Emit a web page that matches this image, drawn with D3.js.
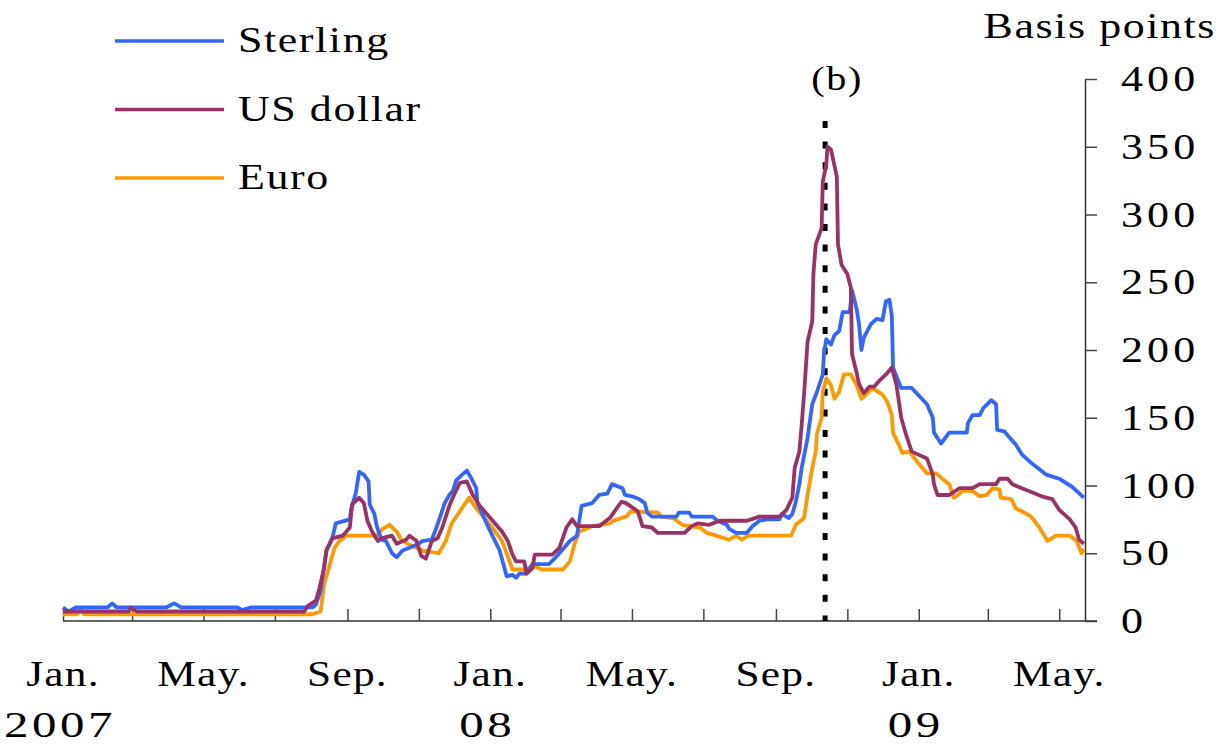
<!DOCTYPE html>
<html>
<head>
<meta charset="utf-8">
<script src="https://cdn.jsdelivr.net/npm/d3@7"></script>
<style>
  body { margin: 0; background: #fff; }
  text { font-family: "Liberation Serif", "Times New Roman", serif; fill: #000; }
</style>
</head>
<body>
<svg width="1228" height="745"></svg>
<script>
// spreads, basis points
const sterling = [
	["2007-01-01",10],["2007-01-06",7],["2007-01-12",10],["2007-02-08",10],["2007-02-12",13],["2007-02-16",10],
	["2007-03-30",10],["2007-04-06",13],["2007-04-12",10],["2007-05-30",10],["2007-06-03",8],["2007-06-10",10],
	["2007-08-02",10],["2007-08-05",12],["2007-08-09",22],["2007-08-14",52],["2007-08-19",61],["2007-08-22",72],
	["2007-09-03",75],["2007-09-04",82],["2007-09-08",94],["2007-09-11",110],["2007-09-15",108],["2007-09-19",103],
	["2007-09-20",86],["2007-09-24",79],["2007-09-26",70],["2007-09-30",60],["2007-10-04",59],["2007-10-09",50],
	["2007-10-13",47],["2007-10-18",52],["2007-10-24",54],["2007-11-01",57],["2007-11-04",59],["2007-11-12",60],
	["2007-11-16",69],["2007-11-20",79],["2007-11-23",87],["2007-11-27",93],["2007-11-30",96],["2007-12-03",104],
	["2007-12-08",108],["2007-12-12",111],["2007-12-16",105],["2007-12-20",98],["2007-12-21",87],["2007-12-31",68],
	["2008-01-09",52],["2008-01-15",33],["2008-01-20",34],["2008-01-23",32],["2008-01-26",35],["2008-02-01",35],
	["2008-02-06",42],["2008-02-20",42],["2008-02-26",47],["2008-03-09",59],["2008-03-15",63],["2008-03-19",85],
	["2008-03-28",87],["2008-04-03",93],["2008-04-10",94],["2008-04-14",101],["2008-04-23",98],["2008-04-25",93],
	["2008-05-01",92],["2008-05-07",90],["2008-05-12",87],["2008-05-14",80],["2008-05-18",77],["2008-06-08",77],
	["2008-06-10",80],["2008-06-19",80],["2008-06-21",77],["2008-07-09",77],["2008-07-13",74],["2008-07-21",71],
	["2008-07-23",68],["2008-07-29",65],["2008-08-07",65],["2008-08-12",70],["2008-08-18",74],["2008-08-24",75],
	["2008-09-04",75],["2008-09-06",79],["2008-09-12",76],["2008-09-15",79],["2008-09-18",88],["2008-09-21",101],
	["2008-09-23",113],["2008-09-28",135],["2008-10-02",160],["2008-10-06",169],["2008-10-11",182],["2008-10-12",197],
	["2008-10-14",208],["2008-10-18",204],["2008-10-21",211],["2008-10-25",214],["2008-10-28",228],["2008-11-03",228],
	["2008-11-05",244],["2008-11-09",230],["2008-11-11",219],["2008-11-13",200],["2008-11-15",209],["2008-11-21",219],
	["2008-11-26",223],["2008-12-01",222],["2008-12-04",236],["2008-12-07",237],["2008-12-09",225],["2008-12-10",187],
	["2008-12-17",172],["2008-12-26",172],["2009-01-08",160],["2009-01-13",150],["2009-01-14",139],["2009-01-20",131],
	["2009-01-27",139],["2009-02-11",139],["2009-02-12",146],["2009-02-16",152],["2009-02-22",152],["2009-02-25",157],
	["2009-03-04",163],["2009-03-08",160],["2009-03-09",141],["2009-03-15",140],["2009-03-19",136],["2009-03-25",130],
	["2009-03-30",123],["2009-04-08",116],["2009-04-20",108],["2009-05-01",105],["2009-05-12",99],["2009-05-22",91]
]
const usDollar = [
	["2007-01-01",7],["2007-02-26",7],["2007-02-28",10],["2007-03-05",7],["2007-07-26",7],["2007-07-29",11],
	["2007-08-05",15],["2007-08-08",24],["2007-08-12",39],["2007-08-14",52],["2007-08-19",61],["2007-08-28",63],
	["2007-09-03",69],["2007-09-05",86],["2007-09-11",91],["2007-09-15",87],["2007-09-18",74],["2007-09-22",66],
	["2007-09-27",59],["2007-09-30",61],["2007-10-09",63],["2007-10-13",57],["2007-10-21",60],["2007-10-24",63],
	["2007-10-30",59],["2007-11-03",48],["2007-11-07",46],["2007-11-12",59],["2007-11-17",61],["2007-11-21",69],
	["2007-11-27",85],["2007-12-01",93],["2007-12-06",102],["2007-12-12",103],["2007-12-17",93],["2007-12-23",85],
	["2008-01-11",66],["2008-01-16",59],["2008-01-20",49],["2008-01-23",44],["2008-01-30",44],["2008-02-01",35],
	["2008-02-06",39],["2008-02-08",49],["2008-02-23",49],["2008-02-29",54],["2008-03-06",69],["2008-03-11",75],
	["2008-03-15",70],["2008-04-03",70],["2008-04-12",76],["2008-04-22",88],["2008-04-26",87],["2008-05-06",81],
	["2008-05-10",70],["2008-05-18",69],["2008-05-23",65],["2008-06-15",65],["2008-06-21",70],["2008-06-26",72],
	["2008-07-06",71],["2008-07-15",74],["2008-08-07",74],["2008-08-18",77],["2008-09-04",77],["2008-09-10",82],
	["2008-09-15",91],["2008-09-17",113],["2008-09-21",125],["2008-09-23",145],["2008-09-25",167],["2008-09-28",206],
	["2008-10-02",221],["2008-10-03",256],["2008-10-05",278],["2008-10-10",290],["2008-10-11",324],["2008-10-14",337],
	["2008-10-15",350],["2008-10-18",348],["2008-10-23",328],["2008-10-24",278],["2008-10-27",263],["2008-11-01",256],
	["2008-11-04",246],["2008-11-05",197],["2008-11-09",183],["2008-11-11",175],["2008-11-15",168],["2008-11-20",173],
	["2008-11-24",173],["2008-11-28",177],["2008-12-04",182],["2008-12-09",187],["2008-12-13",174],["2008-12-17",150],
	["2008-12-21",138],["2008-12-26",125],["2009-01-08",120],["2009-01-13",108],["2009-01-14",101],["2009-01-17",93],
	["2009-01-27",93],["2009-02-05",98],["2009-02-16",98],["2009-02-22",101],["2009-03-08",101],["2009-03-11",105],
	["2009-03-18",105],["2009-03-22",101],["2009-03-30",98],["2009-04-05",96],["2009-04-16",92],["2009-04-25",90],
	["2009-05-01",82],["2009-05-10",75],["2009-05-15",69],["2009-05-18",60],["2009-05-22",57]
]
const euro = [
	["2007-01-01",5],["2007-01-13",5],["2007-01-16",9],["2007-01-19",5],["2007-08-02",5],["2007-08-09",7],
	["2007-08-12",27],["2007-08-16",39],["2007-08-21",54],["2007-08-25",59],["2007-08-31",63],["2007-09-26",63],
	["2007-10-01",68],["2007-10-07",71],["2007-10-13",66],["2007-10-17",60],["2007-10-22",57],["2007-10-30",54],
	["2007-11-04",52],["2007-11-18",50],["2007-11-24",59],["2007-11-29",72],["2007-12-06",81],["2007-12-14",91],
	["2007-12-20",83],["2007-12-31",72],["2008-01-11",59],["2008-01-20",38],["2008-02-01",38],["2008-02-06",41],
	["2008-02-14",38],["2008-03-03",38],["2008-03-09",44],["2008-03-13",57],["2008-03-17",66],["2008-03-28",70],
	["2008-04-12",72],["2008-04-15",74],["2008-04-26",77],["2008-04-30",81],["2008-05-23",80],["2008-05-26",77],
	["2008-06-05",76],["2008-06-13",71],["2008-06-28",69],["2008-07-04",65],["2008-07-12",63],["2008-07-23",60],
	["2008-07-29",63],["2008-08-03",60],["2008-08-08",63],["2008-09-14",63],["2008-09-18",71],["2008-09-25",76],
	["2008-09-28",93],["2008-10-02",113],["2008-10-05",125],["2008-10-06",138],["2008-10-10",150],["2008-10-11",169],
	["2008-10-14",179],["2008-10-18",174],["2008-10-21",164],["2008-10-25",169],["2008-10-29",182],["2008-11-04",182],
	["2008-11-09",174],["2008-11-13",164],["2008-11-18",168],["2008-11-22",172],["2008-12-01",167],["2008-12-05",162],
	["2008-12-09",152],["2008-12-10",139],["2008-12-15",130],["2008-12-18",124],["2008-12-24",125],["2009-01-01",116],
	["2009-01-08",109],["2009-01-16",109],["2009-01-21",105],["2009-01-27",101],["2009-01-31",91],["2009-02-05",94],
	["2009-02-07",96],["2009-02-16",96],["2009-02-22",92],["2009-02-28",93],["2009-03-05",98],["2009-03-11",97],
	["2009-03-12",91],["2009-03-21",90],["2009-03-25",83],["2009-03-30",81],["2009-04-07",77],["2009-04-14",69],
	["2009-04-21",59],["2009-04-28",63],["2009-05-10",63],["2009-05-16",59],["2009-05-20",50],["2009-05-22",53]
]
const seriesNames = ["Sterling", "US dollar", "Euro"]
const seriesColors = ["#3366ff", "#993366", "#ff9900"]
const yTicks = [0, 50, 100, 150, 200, 250, 300, 350, 400]
const monthLabels = ["Jan.", "May.", "Sep.", "Jan.", "May.", "Sep.", "Jan.", "May."]
const yearLabels = ["2007", "", "", "08", "", "", "09", ""]
const markerDate = "2008-10-13"

const parse = d3.timeParse("%Y-%m-%d")
const svg = d3.select("svg")

const x = d3.scaleTime()
	.domain([parse("2007-01-01"), parse("2009-05-23")])
	.range([63, 1085])
const y = d3.scaleLinear().domain([0, 400]).range([621, 79])

// stretched serif text, like the original
function label(g, px, py, str, o){
	o = o || {}
	const sx = o.sx || 1.26
	g.append("text")
		.attr("transform", `translate(${px},${py}) scale(${sx},1)`)
		.attr("text-anchor", o.anchor || "start")
		.attr("font-size", o.size || 35)
		.attr("letter-spacing", o.ls == null ? 3.2 : o.ls)
		.text(str)
}

// x axis
const xTicks = d3.timeMonth.every(2).range(parse("2007-01-01"), parse("2009-05-23"))
svg.append("line")
	.attr("x1", x.range()[0]).attr("x2", 1097)
	.attr("y1", y(0)).attr("y2", y(0))
	.attr("stroke", "#666").attr("stroke-width", 2)
svg.append("g")
	.attr("transform", `translate(0,${y(0)})`)
	.call(d3.axisBottom(x).tickValues(xTicks).tickSize(-12).tickSizeOuter(0).tickFormat(""))
	.call(g => g.select(".domain").remove())
	.call(g => g.selectAll("line").attr("stroke", "#444").attr("stroke-width", 1.5))

const lab = svg.append("g")
d3.timeMonth.every(4).range(parse("2007-01-01"), parse("2009-05-23")).forEach((d, i) => {
	label(lab, x(d), 686, monthLabels[i], {anchor: "middle", sx: 1.24, ls: 1})
	if(yearLabels[i]) label(lab, x(d) - 3, 737, yearLabels[i], {anchor: "middle", sx: 1.4, ls: 2.5})
})

// y axis on the right
svg.append("g")
	.attr("transform", `translate(${x.range()[1]},0)`)
	.call(d3.axisRight(y).tickValues(yTicks).tickSize(12).tickSizeOuter(0).tickPadding(0).tickFormat(""))
	.call(g => g.select(".domain").attr("stroke", "#333").attr("stroke-width", 1.5))
	.call(g => g.selectAll(".tick line").attr("stroke", "#444").attr("stroke-width", 1.5))
yTicks.forEach(v => label(lab, 1121, y(v) + 12, v))
label(lab, 1216, 38, "Basis points", {anchor: "end", size: 36, sx: 1.22, ls: 1.3})

// marker line (b)
const mx = x(parse(markerDate))
svg.append("line")
	.attr("x1", mx).attr("x2", mx)
	.attr("y1", 121).attr("y2", y(0))
	.attr("stroke", "#000").attr("stroke-width", 5)
	.attr("stroke-dasharray", "7,13.6")
label(lab, mx + 12, 90, "(b)", {anchor: "middle", size: 33, sx: 1.22, ls: 1.3})

// series
const line = d3.line()
	.x(d => x(parse(d[0])))
	.y(d => y(d[1]))
const allSeries = [sterling, usDollar, euro]
// euro underneath, then sterling, dollar on top
;[2, 0, 1].forEach(i => {
	svg.append("path")
		.datum(allSeries[i])
		.attr("d", line)
		.attr("fill", "none")
		.attr("stroke", seriesColors[i])
		.attr("stroke-width", 3.8)
		.attr("stroke-linejoin", "round")
})

// legend
seriesNames.forEach((n, i) => {
	const ly = 41 + i * 68.5
	svg.append("line")
		.attr("x1", 115).attr("x2", 224)
		.attr("y1", ly).attr("y2", ly)
		.attr("stroke", seriesColors[i]).attr("stroke-width", 3.5)
	label(lab, 238, ly + 11, n, {size: 36, sx: 1.22, ls: 1.3})
})
</script>
</body>
</html>
